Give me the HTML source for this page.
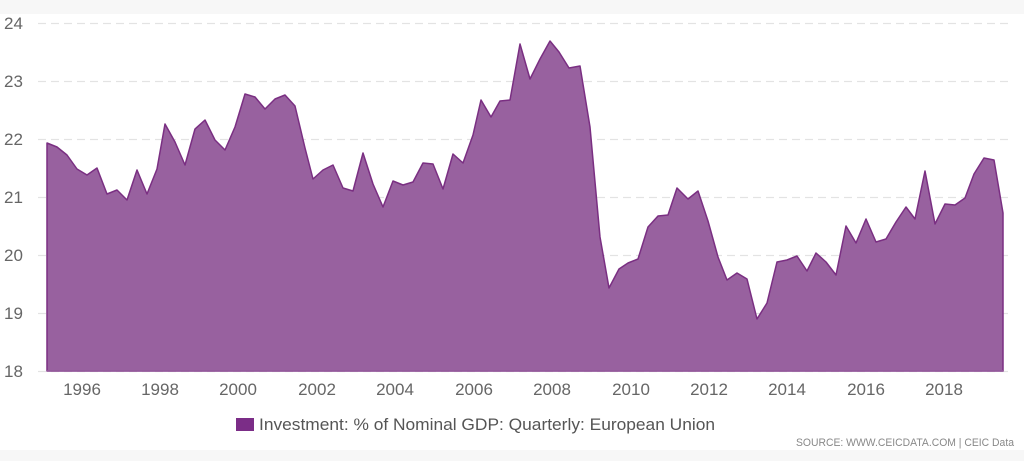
<!DOCTYPE html>
<html><head><meta charset="utf-8"><style>
body{margin:0;width:1024px;height:461px;overflow:hidden;background:#fff;font-family:"Liberation Sans",sans-serif}
</style></head><body>
<svg width="1024" height="461" xmlns="http://www.w3.org/2000/svg">
<rect x="0" y="0" width="1024" height="14" fill="#f7f7f7"/>
<rect x="0" y="450" width="1024" height="11" fill="#f7f7f7"/>
<g stroke="#e3e3e3" stroke-dasharray="8,5" stroke-width="1.2">
<line x1="38" y1="23.5" x2="1010" y2="23.5"/>
<line x1="38" y1="81.5" x2="1010" y2="81.5"/>
<line x1="38" y1="139.5" x2="1010" y2="139.5"/>
<line x1="38" y1="197.5" x2="1010" y2="197.5"/>
<line x1="38" y1="255.5" x2="1010" y2="255.5"/>
<line x1="38" y1="313.5" x2="1010" y2="313.5"/>
<line x1="38" y1="371.5" x2="1010" y2="371.5"/>
</g>
<g font-size="17" fill="#666">
<text x="4" y="29">24</text><text x="4" y="87">23</text><text x="4" y="145">22</text>
<text x="4" y="203">21</text><text x="4" y="261">20</text><text x="4" y="319">19</text><text x="4" y="377">18</text>
</g>
<g font-size="17" fill="#666" text-anchor="middle">
<text x="82" y="395">1996</text><text x="160" y="395">1998</text><text x="238" y="395">2000</text>
<text x="317" y="395">2002</text><text x="395" y="395">2004</text><text x="474" y="395">2006</text>
<text x="552" y="395">2008</text><text x="631" y="395">2010</text><text x="709" y="395">2012</text>
<text x="787" y="395">2014</text><text x="866" y="395">2016</text><text x="944" y="395">2018</text>
</g>
<polygon fill="#98619f" stroke="#7a2f82" stroke-width="1.5" stroke-linejoin="round" points="47,371 47,143 57,147 67,155 77,169 87,175 97,168 107,194 117,190 127,200 137,170 147,194 157,169 165,124 175,142 185,165 195,129 205,120 215,140 225,150 235,127 245,94 255,97 265,109 275,99 285,95 295,106 305,148 313,179 323,170 333,165 343,188 353,191 363,153 373,184 383,207 393,181 403,185 413,182 423,163 433,164 443,189 453,154 463,163 473,135 481,100 491,117 500,101 510,100 520,44 530,79 540,59 550,41 559,52 569,68 580,66 590,127 600,237 609,288 619,269 628,263 638,259 648,227 658,216 668,215 677,188 688,199 698,191 708,221 718,257 727,280 737,273 747,279 757,319 767,303 777,262 787,260 797,256 807,271 816,253 826,262 836,275 846,226 856,243 866,219 876,242 886,239 896,222 906,207 915,219 925,171 935,224 945,204 955,205 965,198 974,174 984,158 994,160 1003,213 1003,371"/>
<line x1="47" y1="371" x2="1003" y2="371" stroke="#98619f" stroke-width="1.5"/>
<rect x="236" y="418" width="18" height="13" fill="#7b2d87"/>
<text x="259" y="430" font-size="17" fill="#555" textLength="456" lengthAdjust="spacingAndGlyphs">Investment: % of Nominal GDP: Quarterly: European Union</text>
<text x="796" y="446" font-size="11" fill="#888" textLength="218" lengthAdjust="spacingAndGlyphs">SOURCE: WWW.CEICDATA.COM | CEIC Data</text>
</svg>
</body></html>
